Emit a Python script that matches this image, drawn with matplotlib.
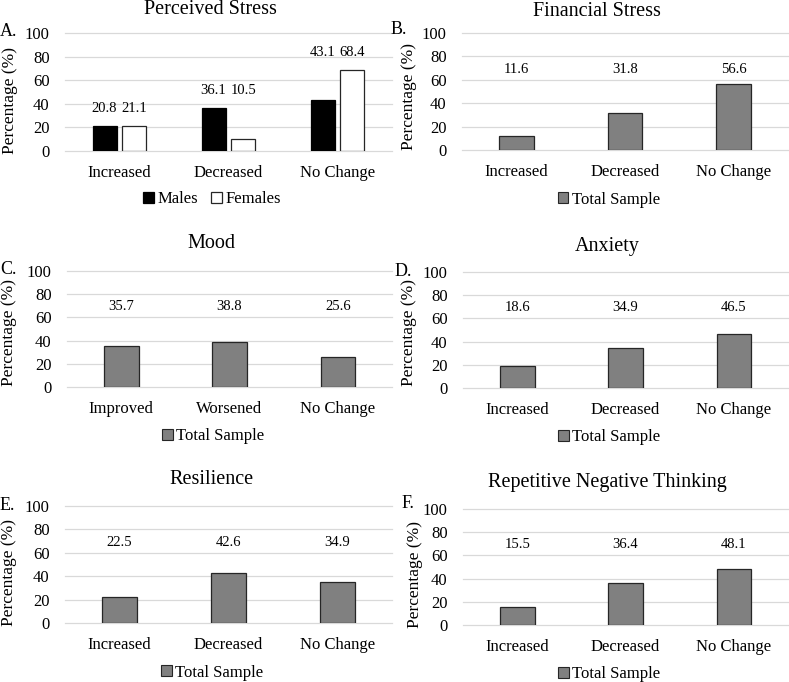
import numpy as np
import matplotlib
matplotlib.use("Agg")
import matplotlib.pyplot as plt
from matplotlib.patches import Patch

plt.rcParams["font.family"] = ["Liberation Serif", "DejaVu Serif"]

W, H = 789, 682

CHANGE_CATS = ["Increased", "Decreased", "No Change"]
MOOD_CATS = ["Improved", "Worsened", "No Change"]

stress_males = [20.8, 36.1, 43.1]
stress_females = [21.1, 10.5, 68.4]
financial = [11.6, 31.8, 56.6]
mood = [35.7, 38.8, 25.6]
anxiety = [18.6, 34.9, 46.5]
resilience = [22.5, 42.6, 34.9]
rnt = [15.5, 36.4, 48.1]

GRAY = "#808080"
EDGE = "#262626"
GRID = "#d9d9d9"

# axes boxes in pixels: left, top, right, bottom
BOXES = {
    "A": (65, 33, 392, 151),
    "B": (462, 33, 788, 150),
    "C": (67, 271, 392, 387),
    "D": (463, 272, 788, 388),
    "E": (65, 506, 392, 623),
    "F": (463, 509, 788, 625),
}
LETTER_POS = {"A": (0, 32), "B": (391, 30), "C": (0, 269), "D": (395, 271),
              "E": (0, 506), "F": (402, 503)}
TITLE_POS = {"A": (210, 10), "B": (597, 12), "C": (211, 243), "D": (607, 246),
             "E": (211, 480), "F": (607, 482)}
YLABEL_POS = {"A": (10, 100), "B": (409, 96), "C": (9, 333), "D": (409, 333),
              "E": (9, 573), "F": (415, 575)}


def fx(x):
    return x / W


def fy(y):
    return 1 - y / H


def make_axes(fig, key):
    l, t, r, b = BOXES[key]
    ax = fig.add_axes([fx(l), fy(b), (r - l) / W, (b - t) / H])
    ax.set_ylim(0, 100)
    ax.set_xlim(-0.5, 2.5)
    ax.set_yticks([0, 20, 40, 60, 80, 100])
    ax.yaxis.grid(True, color=GRID, linewidth=0.9, clip_on=False)
    ax.set_axisbelow(True)
    for s in ax.spines.values():
        s.set_visible(False)
    ax.tick_params(length=0, labelsize=12)
    ax.tick_params(axis="y", pad=11)
    ax.tick_params(axis="x", pad=10)
    lx, ly = YLABEL_POS[key]
    fig.text(fx(lx), fy(ly), "Percentage (%)", rotation=90,
             ha="center", va="center", fontsize=12.5)
    fig.text(fx(LETTER_POS[key][0]), fy(LETTER_POS[key][1]), key + ".",
             ha="left", va="center", fontsize=13)
    return ax


def single_panel(fig, key, title, cats, vals):
    ax = make_axes(fig, key)
    x = np.arange(len(cats))
    ax.bar(x, vals, width=0.32, color=GRAY, edgecolor=EDGE, linewidth=0.9,
           label="Total Sample")
    for xi, v in zip(x, vals):
        ax.text(xi, 69, f"{v:.1f}", ha="center", va="center", fontsize=10.5)
    ax.set_xticks(x)
    ax.set_xticklabels(cats)
    fig.text(fx(TITLE_POS[key][0]), fy(TITLE_POS[key][1]), title,
             ha="center", va="center", fontsize=14.5)
    ax.legend(handles=[Patch(facecolor=GRAY, edgecolor=EDGE, linewidth=0.8,
                             label="Total Sample")],
              loc="center", bbox_to_anchor=(0.45, -0.425), frameon=False,
              fontsize=12, handlelength=0.65, handleheight=0.65,
              handletextpad=0.2, borderpad=0)
    return ax


fig = plt.figure(figsize=(W / 100, H / 100), dpi=100)

# A: perceived stress, males vs females
ax = make_axes(fig, "A")
x = np.arange(len(CHANGE_CATS))
off = 0.1375
ax.bar(x - off, stress_males, width=0.22, color="black", edgecolor="black",
       linewidth=0.9, label="Males")
ax.bar(x + off, stress_females, width=0.22, color="white", edgecolor=EDGE,
       linewidth=0.9, label="Females")
for xi, m, f in zip(x, stress_males, stress_females):
    top = max(m, f)
    for dx, v in ((-off, m), (off, f)):
        ax.annotate(f"{v:.1f}", (xi + dx, top), xytext=(0, 8),
                    textcoords="offset points", ha="center", va="bottom",
                    fontsize=10.5)
ax.set_xticks(x)
ax.set_xticklabels(CHANGE_CATS)
fig.text(fx(TITLE_POS["A"][0]), fy(TITLE_POS["A"][1]), "Perceived Stress",
         ha="center", va="center", fontsize=14.5)
ax.legend(loc="center", bbox_to_anchor=(0.45, -0.41), ncol=2, frameon=False,
          fontsize=12, handlelength=0.65, handleheight=0.65,
          handletextpad=0.2, columnspacing=0.8, borderpad=0)

single_panel(fig, "B", "Financial Stress", CHANGE_CATS, financial)
single_panel(fig, "C", "Mood", MOOD_CATS, mood)
single_panel(fig, "D", "Anxiety", CHANGE_CATS, anxiety)
single_panel(fig, "E", "Resilience", CHANGE_CATS, resilience)
single_panel(fig, "F", "Repetitive Negative Thinking", CHANGE_CATS, rnt)

fig.savefig("out.png", dpi=100, facecolor="white")
